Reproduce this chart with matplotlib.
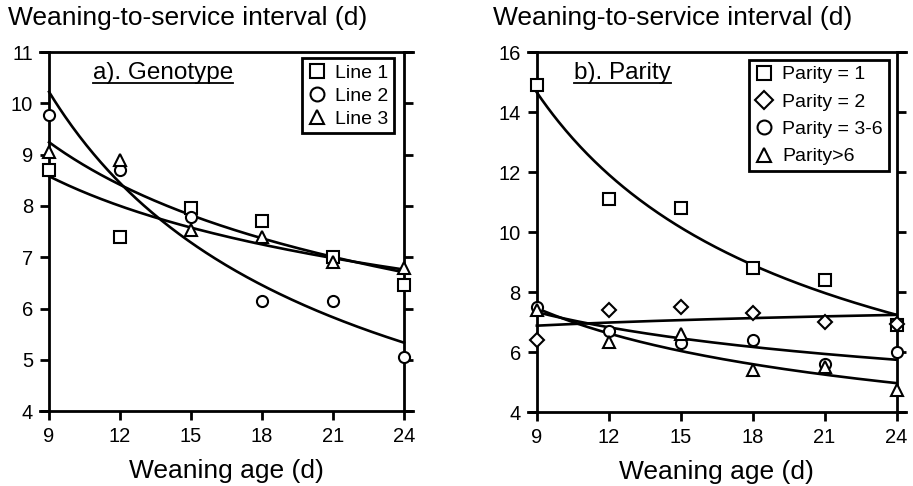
import numpy as np
import matplotlib
matplotlib.use('Agg')
import matplotlib.pyplot as plt
from matplotlib.lines import Line2D

plt.rcParams['font.family'] = ['Liberation Sans', 'DejaVu Sans']

# Weaning age (days) at which sows were weaned
ages = [9, 12, 15, 18, 21, 24]

# a) Genotype: mean weaning-to-service interval (d)
genotype_labels = ['Line 1', 'Line 2', 'Line 3']
line1 = [8.7, 7.4, 7.95, 7.7, 7.0, 6.45]
line2 = [9.77, 8.7, 7.78, 6.15, 6.15, 5.05]
line3 = [9.05, 8.9, 7.53, 7.4, 6.91, 6.79]

# b) Parity: mean weaning-to-service interval (d)
parity_labels = ['Parity = 1', 'Parity = 2', 'Parity = 3-6', 'Parity>6']
parity1 = [14.9, 11.1, 10.8, 8.8, 8.4, 6.9]
parity2 = [6.4, 7.4, 7.5, 7.3, 7.0, 6.95]
parity3_6 = [7.5, 6.7, 6.3, 6.4, 5.6, 6.0]
parity_gt6 = [7.4, 6.35, 6.6, 5.4, 5.5, 4.73]

ylabel_text = 'Weaning-to-service interval (d)'
xlabel_text = 'Weaning age (d)'

LW = 1.9
MS = 8


def power_fit(x, y):
    """Fit y = a * x**b by least squares on log-log scale."""
    b, lna = np.polyfit(np.log(x), np.log(y), 1)
    xs = np.linspace(min(x), max(x), 200)
    return xs, np.exp(lna) * xs ** b


def style_axes(ax, yticks):
    ax.set_xlim(9, 24)
    ax.set_ylim(yticks[0], yticks[-1])
    ax.set_xticks(ages)
    ax.set_yticks(yticks)
    for s in ax.spines.values():
        s.set_linewidth(2.0)
    # horizontal frame lines run a little past the vertical axes
    ext = 0.38
    ax.spines['top'].set_bounds(9 - ext, 24 + ext)
    ax.spines['bottom'].set_bounds(9 - ext, 24 + ext)
    ax.tick_params(axis='both', direction='out', length=6.5, width=2.0,
                   labelsize=14.5, pad=5)
    ax.tick_params(axis='y', right=True, labelright=False)
    ax.tick_params(axis='x', top=False)
    ax.set_xlabel(xlabel_text, fontsize=19, labelpad=9)


def draw_panel(ax, series, labels, markers, title, legend_anchor, ls):
    handles = []
    for y, lab, m in zip(series, labels, markers):
        xs, ys = power_fit(ages, y)
        ax.plot(xs, ys, color='black', lw=LW, zorder=2, clip_on=False)
        ms = MS - 1 if m == 'D' else MS
        ax.plot(ages, y, linestyle='none', marker=m, markersize=ms,
                markerfacecolor='white', markeredgecolor='black',
                markeredgewidth=1.5, zorder=3, clip_on=False)
        handles.append(Line2D([], [], linestyle='none', marker=m,
                              markersize=ms + 2, markerfacecolor='white',
                              markeredgecolor='black', markeredgewidth=1.5,
                              label=lab))
    leg = ax.legend(handles=handles, loc='upper right',
                    bbox_to_anchor=legend_anchor, fontsize=14,
                    frameon=True, fancybox=False, framealpha=1,
                    edgecolor='black', handlelength=0.9, handletextpad=0.5,
                    borderpad=0.3, labelspacing=ls, borderaxespad=0)
    leg.get_frame().set_linewidth(2.0)
    t = ax.text(title[1], title[2], title[0], transform=ax.transAxes,
                fontsize=17.5, ha='left', va='baseline')
    return t


fig = plt.figure(figsize=(9.13, 4.86), dpi=100)
ax1 = fig.add_axes([0.0537, 0.154, 0.3888, 0.739])
ax2 = fig.add_axes([0.588, 0.152, 0.394, 0.741])

style_axes(ax1, [4, 5, 6, 7, 8, 9, 10, 11])
style_axes(ax2, [4, 6, 8, 10, 12, 14, 16])

t1 = draw_panel(ax1, [line1, line2, line3], genotype_labels,
                ['s', 'o', '^'], ('a). Genotype', 0.124, 0.925),
                (0.972, 0.983), 0.28)
t2 = draw_panel(ax2, [parity1, parity2, parity3_6, parity_gt6], parity_labels,
                ['s', 'D', 'o', '^'], ('b). Parity', 0.103, 0.925),
                (0.978, 0.978), 0.5)

fig.text(0.009, 0.962, ylabel_text, fontsize=19, ha='left', va='center')
fig.text(0.540, 0.962, ylabel_text, fontsize=19, ha='left', va='center')

# underline the panel titles
fig.canvas.draw()
r = fig.canvas.get_renderer()
for t in (t1, t2):
    bb = t.get_window_extent(renderer=r)
    x0, y0 = fig.transFigure.inverted().transform((bb.x0, bb.y0 + 1))
    x1, _ = fig.transFigure.inverted().transform((bb.x1, bb.y0 + 1))
    fig.add_artist(Line2D([x0, x1], [y0, y0], color='black', lw=1.3,
                          transform=fig.transFigure))

fig.savefig('out.png', dpi=100)
